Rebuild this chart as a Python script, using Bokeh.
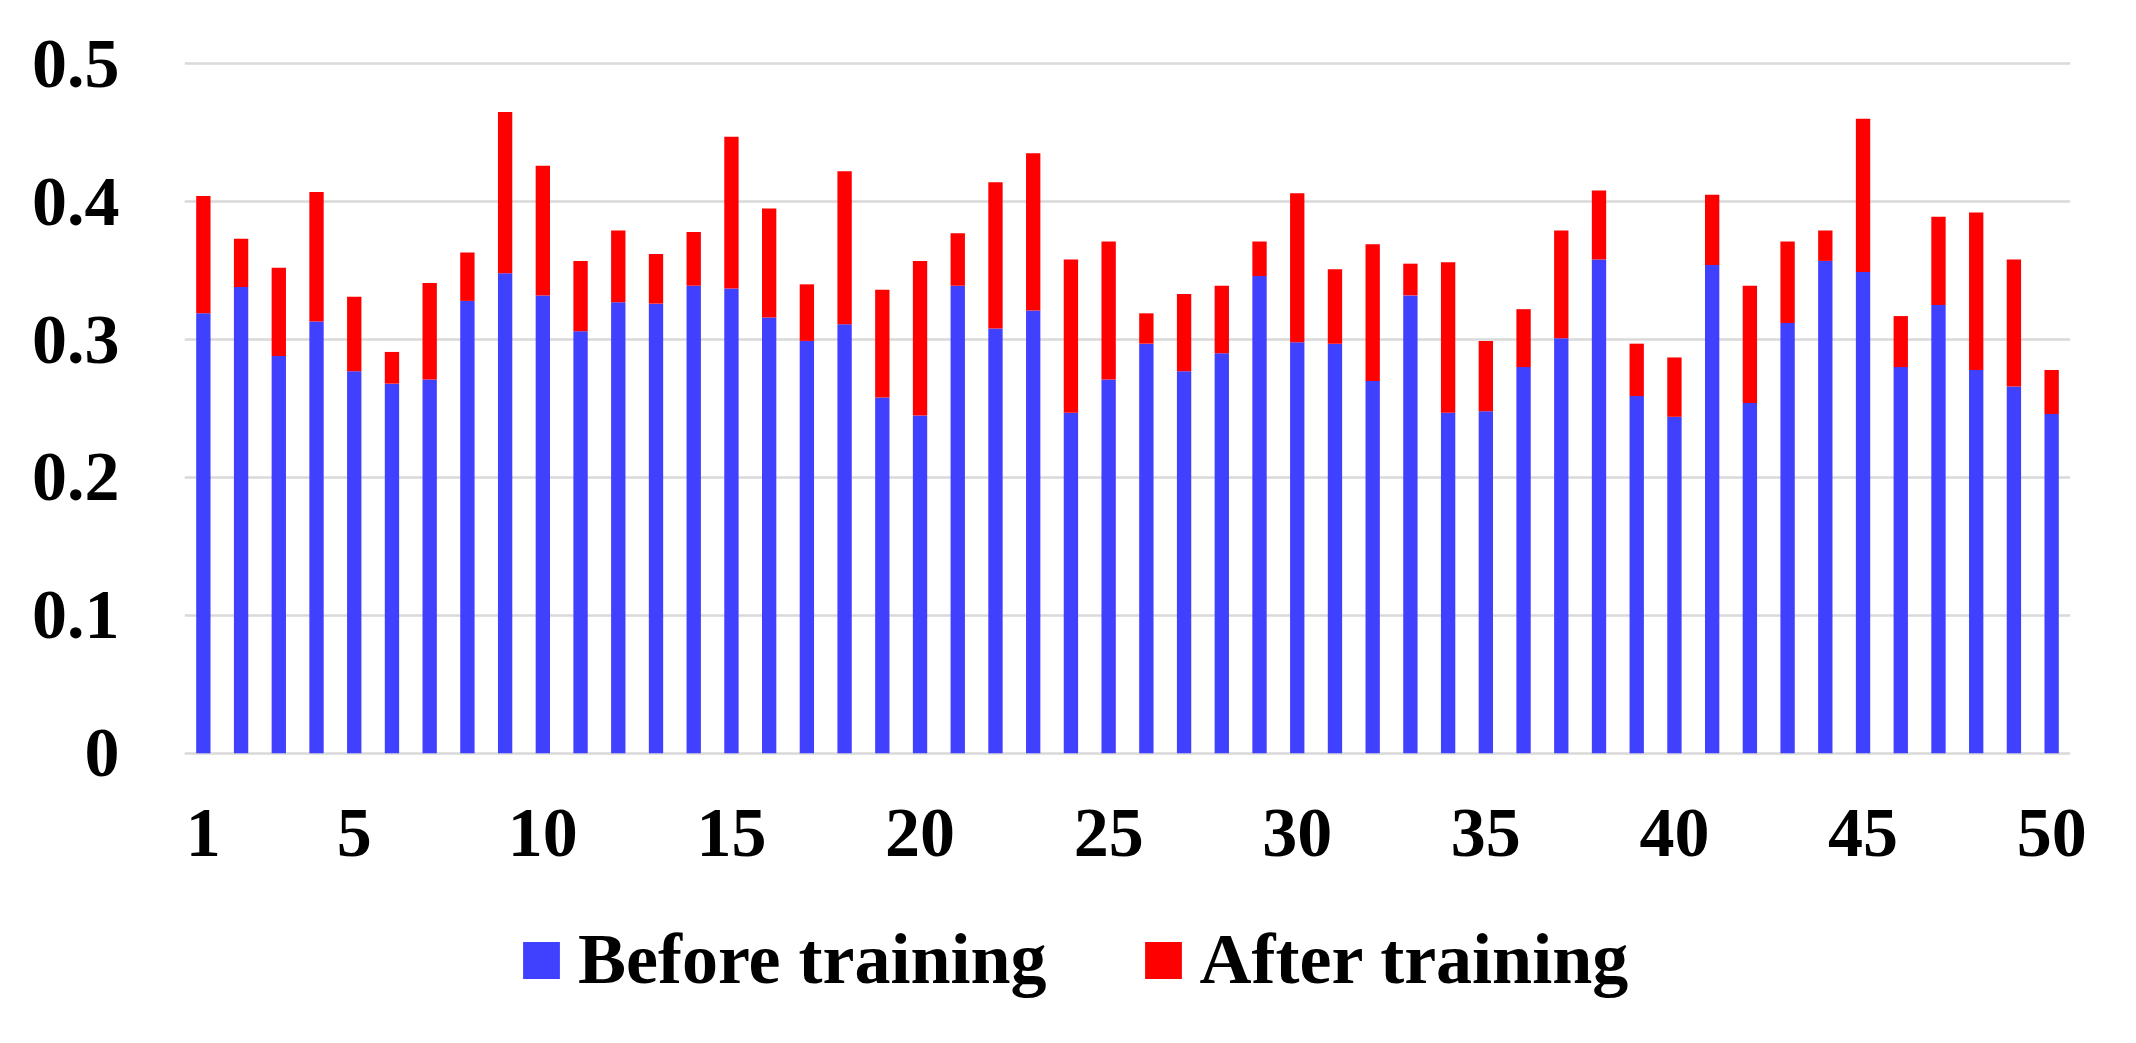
from bokeh.plotting import figure
from bokeh.layouts import column
from bokeh.models import Range1d, FixedTicker, Legend, LegendItem, ColumnDataSource
from bokeh.embed import file_html
from bokeh.resources import INLINE

# ---- data ----
samples = list(range(1, 51))
before_training = [0.319, 0.338, 0.288, 0.313, 0.277, 0.268, 0.271, 0.328, 0.348, 0.332,
                   0.306, 0.327, 0.326, 0.339, 0.337, 0.316, 0.299, 0.311, 0.258, 0.245,
                   0.339, 0.308, 0.321, 0.247, 0.271, 0.297, 0.277, 0.290, 0.346, 0.298,
                   0.297, 0.270, 0.332, 0.247, 0.248, 0.280, 0.301, 0.358, 0.259, 0.244,
                   0.354, 0.254, 0.312, 0.357, 0.349, 0.280, 0.325, 0.278, 0.266, 0.246]
after_training = [0.404, 0.373, 0.352, 0.407, 0.331, 0.291, 0.341, 0.363, 0.465, 0.426,
                  0.357, 0.379, 0.362, 0.378, 0.447, 0.395, 0.340, 0.422, 0.336, 0.357,
                  0.377, 0.414, 0.435, 0.358, 0.371, 0.319, 0.333, 0.339, 0.371, 0.406,
                  0.351, 0.369, 0.355, 0.356, 0.299, 0.322, 0.379, 0.408, 0.297, 0.287,
                  0.405, 0.339, 0.371, 0.379, 0.460, 0.317, 0.389, 0.392, 0.358, 0.278]
x_ticks = [1, 5, 10, 15, 20, 25, 30, 35, 40, 45, 50]
x_tick_labels = ["1", "5", "10", "15", "20", "25", "30", "35", "40", "45", "50"]
y_ticks = [0, 0.1, 0.2, 0.3, 0.4, 0.5]
y_tick_labels = ["0", "0.1", "0.2", "0.3", "0.4", "0.5"]
series_names = ["Before training", "After training"]

BLUE = "#4040FF"
RED = "#FF0000"
FONT = "Liberation Serif"

src = ColumnDataSource(dict(x=samples, before=before_training, after=after_training))

p = figure(width=2128, height=900, output_backend="svg", toolbar_location=None,
           x_range=Range1d(0.5, 50.5), y_range=Range1d(-0.003, 0.503),
           min_border_left=184, min_border_right=58, min_border_top=59, min_border_bottom=143)

rb = p.vbar(x="x", top="before", bottom=0, width=0.38, source=src,
            fill_color=BLUE, line_color=None)
ra = p.vbar(x="x", top="after", bottom="before", width=0.38, source=src,
            fill_color=RED, line_color=None)

p.outline_line_color = None
p.xgrid.grid_line_color = None
p.ygrid.grid_line_color = "#D9D9D9"
p.ygrid.grid_line_width = 2.5
p.ygrid.ticker = FixedTicker(ticks=y_ticks)

for ax in (p.xaxis[0], p.yaxis[0]):
    ax.axis_line_color = None
    ax.major_tick_line_color = None
    ax.minor_tick_line_color = None
    ax.major_tick_in = 0
    ax.major_tick_out = 0
    ax.major_label_text_font = FONT
    ax.major_label_text_font_style = "bold"
    ax.major_label_text_font_size = "70px"
    ax.major_label_text_color = "black"

p.xaxis.ticker = FixedTicker(ticks=x_ticks)
p.xaxis.major_label_overrides = {t: l for t, l in zip(x_ticks, x_tick_labels)}
p.xaxis.major_label_standoff = 52
p.yaxis.ticker = FixedTicker(ticks=y_ticks)
p.yaxis.major_label_overrides = {t: l for t, l in zip(y_ticks, y_tick_labels)}
p.yaxis.major_label_standoff = 65

# legend strip below the chart (its frame is aligned with the chart's frame by the column)
lg = figure(width=2128, height=135, output_backend="svg", toolbar_location=None,
            x_range=Range1d(0.5, 50.5), y_range=Range1d(10, 11),
            x_axis_location=None, y_axis_location=None,
            min_border_left=184, min_border_right=58, min_border_top=0, min_border_bottom=0)
lg.outline_line_color = None
lg.grid.grid_line_color = None
# proxies for the legend keys (the bars lie outside this strip's visible range)
kb = lg.vbar(x="x", top="before", bottom=0, width=0.38, source=src, fill_color=BLUE, line_color=None)
kr = lg.vbar(x="x", top="after", bottom="before", width=0.38, source=src, fill_color=RED, line_color=None)

legend = Legend(items=[LegendItem(label=series_names[0], renderers=[kb]),
                       LegendItem(label=series_names[1], renderers=[kr])],
                orientation="horizontal", location=(334, 34),
                label_text_font=FONT, label_text_font_style="bold",
                label_text_font_size="72px", label_text_color="black",
                glyph_width=46, glyph_height=46, label_standoff=14, spacing=93,
                padding=10, margin=0, border_line_color=None, background_fill_alpha=0)
lg.add_layout(legend, "center")

layout = column(p, lg, spacing=0)
open("out.html", "w").write(file_html(layout, INLINE))
